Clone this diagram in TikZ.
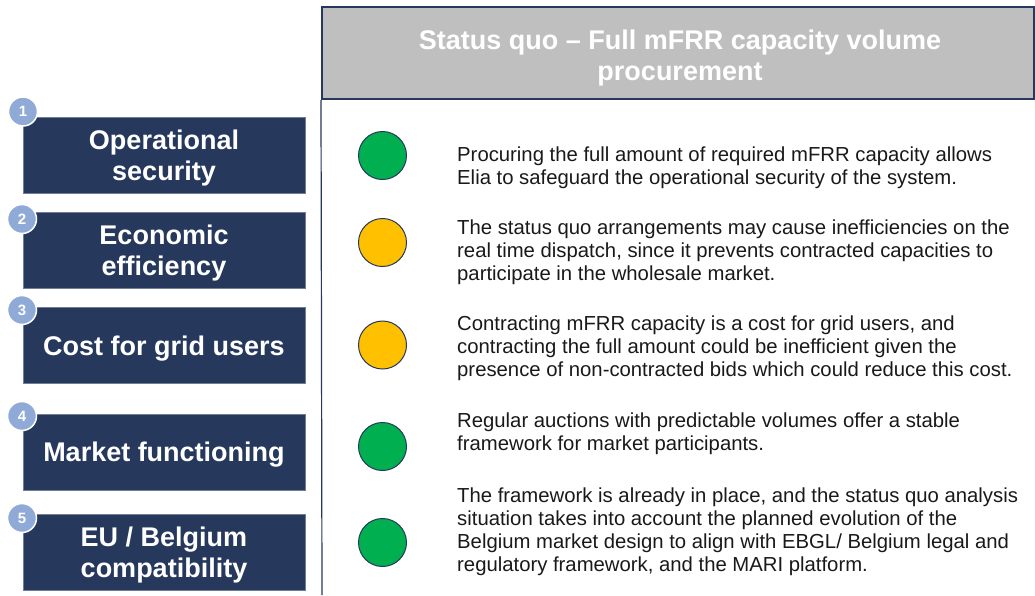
\documentclass[tikz,border=0pt]{standalone}
\usepackage{fontspec}
\setmainfont{Liberation Sans}
\definecolor{navy}{RGB}{38,56,92}
\definecolor{badgeblue}{RGB}{143,170,214}
\definecolor{okgreen}{RGB}{0,176,80}
\definecolor{amber}{RGB}{255,192,0}
\definecolor{headgrey}{RGB}{191,191,191}
\begin{document}
\begin{tikzpicture}[x=1pt,y=-1pt,
  crit/.style={fill=navy,draw=navy!65!white,line width=0.6pt,minimum width=282pt,minimum height=76pt,inner sep=0pt},
  crittext/.style={yshift=-3pt,text=white,align=center,font=\bfseries\fontsize{27}{31}\selectfont},
  badge/.style={circle,fill=badgeblue,draw=white,line width=1.5pt,minimum size=29pt,inner sep=0pt,
    text=white,font=\bfseries\fontsize{15}{15}\selectfont},
  dot/.style={circle,draw=navy,line width=1pt,minimum size=48pt,inner sep=0pt},
  note/.style={anchor=base west,inner sep=0pt,align=left,text=black!90,font=\fontsize{20.3}{23}\selectfont}]

\useasboundingbox (0,0) rectangle (1035,595);

% header of the option column
\node[fill=headgrey,draw=navy,line width=2pt,minimum width=712pt,minimum height=92pt,inner sep=0pt] (head) at (678,53) {};
\node[text=white,align=center,font=\bfseries\fontsize{27}{31}\selectfont] (title) at (680,58)
  {Status quo -- Full mFRR capacity volume\\procurement};
\coordinate (foot) at (322,595);
\draw[navy,line width=1.2pt] (head.south west) -- (foot);

% criteria
\node[crit] (c1) at (164,155) {};
\node[crit] (c2) at (164,250.5) {};
\node[crit] (c3) at (164,345.5) {};
\node[crit] (c4) at (164,452) {};
\node[crit] (c5) at (164,552) {};
\node[crittext] (l1) at (c1) {Operational\\security};
\node[crittext] (l2) at (c2) {Economic\\efficiency};
\node[crittext] (l3) at (c3) {Cost for grid users};
\node[crittext] (l4) at (c4) {Market functioning};
\node[crittext] (l5) at (c5) {EU / Belgium\\compatibility};

\node[badge] (n1) at (23,111.5) {1};
\node[badge] (n2) at (22,219) {2};
\node[badge] (n3) at (22,310) {3};
\node[badge] (n4) at (22,416) {4};
\node[badge] (n5) at (22,518) {5};

% assessment (anchor is on the last line)
\node[dot,fill=okgreen] (r1) at (382.5,155.5) {};
\node[dot,fill=amber] (r2) at (382.5,242.5) {};
\node[dot,fill=amber] (r3) at (382.5,345) {};
\node[dot,fill=okgreen] (r4) at (382.5,446.5) {};
\node[dot,fill=okgreen] (r5) at (382.5,542.5) {};

\node[note] (t1) at (457,184) {Procuring the full amount of required mFRR capacity allows\\Elia to safeguard the operational security of the system.};
\node[note] (t2) at (457,280) {The status quo arrangements may cause inefficiencies on the\\real time dispatch, since it prevents contracted capacities to\\participate in the wholesale market.};
\node[note] (t3) at (457,376) {Contracting mFRR capacity is a cost for grid users, and\\contracting the full amount could be inefficient given the\\presence of non-contracted bids which could reduce this cost.};
\node[note] (t4) at (457,450) {Regular auctions with predictable volumes offer a stable\\framework for market participants.};
\node[note] (t5) at (457,571) {The framework is already in place, and the status quo analysis\\situation takes into account the planned evolution of the\\Belgium market design to align with EBGL/ Belgium legal and\\regulatory framework, and the MARI platform.};

\end{tikzpicture}
\end{document}
